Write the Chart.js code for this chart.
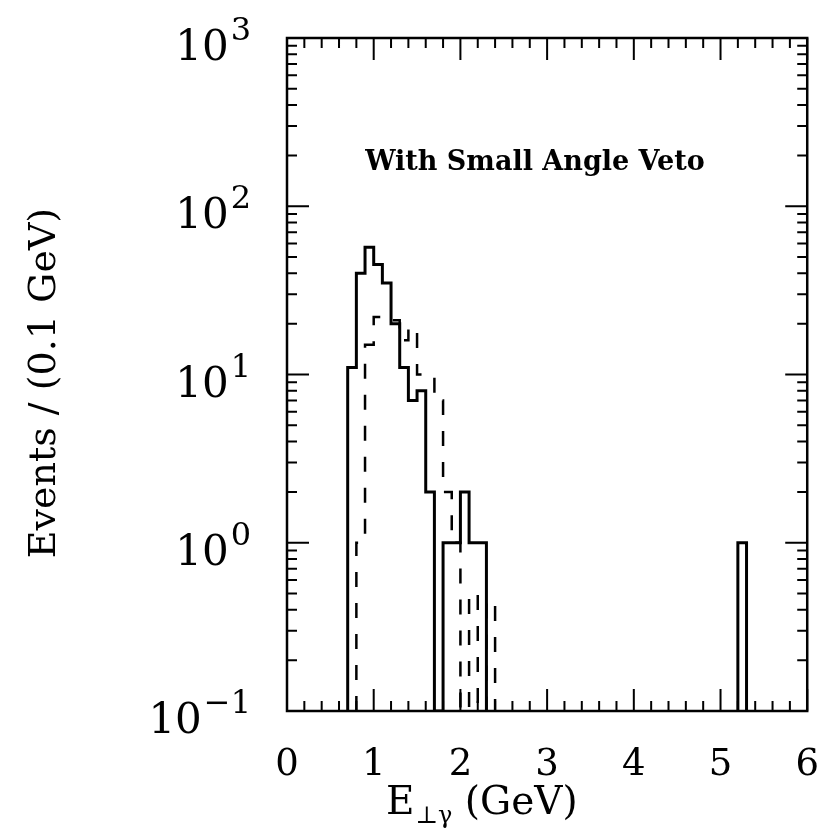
<!DOCTYPE html>
<html>
<head>
<meta charset="utf-8">
<script src="https://cdn.jsdelivr.net/npm/chart.js@4.4.1/dist/chart.umd.min.js"></script>
<style>
  html, body { margin: 0; padding: 0; background: #fff; }
  #wrap { position: relative; width: 819px; height: 834px; }
</style>
</head>
<body>
<div id="wrap"><canvas id="histChart"></canvas></div>
<script>
// histogram bins are 0.1 GeV wide, listed by their left edge
const binWidth = 0.1;
const solidLeft   = [0.7, 0.8, 0.9, 1.0, 1.1, 1.2, 1.3, 1.4, 1.5, 1.6, 1.7, 1.8, 1.9, 2.0, 2.1, 2.2, 5.2];
const solidCounts = [11, 40, 57, 45, 35, 20, 11, 7, 8, 2, 0, 1, 1, 2, 1, 1, 1];
const dashedLeft   = [0.8, 0.9, 1.0, 1.1, 1.2, 1.3, 1.4, 1.5, 1.6, 1.7, 1.8, 1.9, 2.0, 2.1, 2.2, 2.3];
const dashedCounts = [1, 15, 22, 22, 21, 16, 19, 10, 10, 7, 2, 1, 0, 0.5, 0, 0.45];

const xMin = 0, xMax = 6;
const yMin = 0.1, yMax = 1000;
const yTickValues = [0.1, 1, 10, 100, 1000];
const yTickExponents = ['\u22121', '0', '1', '2', '3'];
const panelLabel = 'With Small Angle Veto';
const yTitle = 'Events / (0.1 GeV)';

const serif = '"DejaVu Serif", "Liberation Serif", serif';

// turn bins into a stepped outline; empty bins sit on the axis floor
function stepPoints(lefts, counts) {
  const pts = [];
  for (let i = 0; i < lefts.length; i++) {
    const joined = i > 0 && Math.abs(lefts[i] - lefts[i - 1] - binWidth) < 1e-6;
    if (!joined) {
      if (i > 0) {
        pts.push({ x: lefts[i - 1] + binWidth, y: yMin });
        pts.push({ x: (lefts[i - 1] + binWidth + lefts[i]) / 2, y: null });
      }
      pts.push({ x: lefts[i], y: yMin });
    }
    pts.push({ x: lefts[i], y: Math.max(counts[i], yMin) });
    pts.push({ x: lefts[i] + binWidth, y: Math.max(counts[i], yMin) });
  }
  pts.push({ x: lefts[lefts.length - 1] + binWidth, y: yMin });
  return pts;
}

const framePlugin = {
  id: 'frame',
  afterDraw(chart) {
    const ctx = chart.ctx;
    const a = chart.chartArea;
    const xs = chart.scales.x, ys = chart.scales.y;
    ctx.save();
    ctx.strokeStyle = '#000';
    ctx.lineWidth = 2;
    ctx.beginPath();
    // x ticks, top and bottom, every 0.2 with long ones on integers
    for (let k = 0; k <= 30; k++) {
      const px = xs.getPixelForValue(k * 0.2);
      const len = k % 5 === 0 ? 22 : 10;
      ctx.moveTo(px, a.bottom); ctx.lineTo(px, a.bottom - len);
      ctx.moveTo(px, a.top); ctx.lineTo(px, a.top + len);
    }
    // log ticks, left and right
    for (let d = -1; d <= 2; d++) {
      for (let m = 1; m <= 9; m++) {
        const py = ys.getPixelForValue(m * Math.pow(10, d));
        const len = m === 1 ? 22 : 10;
        ctx.moveTo(a.left, py); ctx.lineTo(a.left + len, py);
        ctx.moveTo(a.right, py); ctx.lineTo(a.right - len, py);
      }
    }
    ctx.stroke();
    ctx.lineWidth = 2.5;
    ctx.strokeRect(a.left, a.top, a.right - a.left, a.bottom - a.top);

    // y tick labels: 10 with raised exponent
    ctx.fillStyle = '#000';
    ctx.textBaseline = 'alphabetic';
    yTickValues.forEach((v, i) => {
      const py = ys.getPixelForValue(v);
      ctx.font = '32px ' + serif;
      ctx.textAlign = 'right';
      const expW = ctx.measureText(yTickExponents[i]).width;
      ctx.fillText(yTickExponents[i], 251, py + 2);
      ctx.font = '42px ' + serif;
      ctx.fillText('10', 251 - expW - 2, py + 22);
    });

    // label inside the panel
    ctx.font = 'bold 27px ' + serif;
    ctx.textAlign = 'center';
    ctx.fillText(panelLabel, 535, 170);

    // x title: E with lowered ⊥γ
    ctx.textAlign = 'left';
    let tx = 386;
    ctx.font = '39px ' + serif;
    ctx.fillText('E', tx, 814);
    tx += ctx.measureText('E').width + 1;
    ctx.font = '24px ' + serif;
    ctx.fillText('\u22a5\u03b3', tx, 823);
    tx += ctx.measureText('\u22a5\u03b3').width;
    ctx.font = '39px ' + serif;
    ctx.fillText(' (GeV)', tx, 814);

    // y title, rotated
    ctx.save();
    ctx.translate(55, 383);
    ctx.rotate(-Math.PI / 2);
    ctx.textAlign = 'center';
    ctx.font = '38px ' + serif;
    ctx.fillText(yTitle, 0, 0);
    ctx.restore();
    ctx.restore();
  }
};

document.addEventListener('DOMContentLoaded', function() {
  const ctx = document.getElementById('histChart').getContext('2d');
  new Chart(ctx, {
    type: 'line',
    data: {
      datasets: [{
        label: 'Data',
        data: stepPoints(solidLeft, solidCounts),
        borderColor: '#000',
        borderWidth: 3,
        pointRadius: 0,
        tension: 0,
        fill: false,
        spanGaps: false
      },
      {
        label: 'Expected',
        data: stepPoints(dashedLeft, dashedCounts),
        borderColor: '#000',
        borderWidth: 2.5,
        borderDash: [15, 16],
        pointRadius: 0,
        tension: 0,
        fill: false,
        spanGaps: false
      }]
    },
    options: {
      responsive: true,
      maintainAspectRatio: false,
      animation: false,
      layout: { padding: { top: 38, right: 11, left: 0, bottom: 0 } },
      plugins: {
        legend: { display: false },
        tooltip: { enabled: false }
      },
      scales: {
        x: {
          type: 'linear',
          min: xMin,
          max: xMax,
          grid: {
            display: true,
            drawOnChartArea: false,
            drawTicks: true,
            tickLength: 32,
            color: 'rgba(0,0,0,0)'
          },
          border: { display: false },
          ticks: {
            stepSize: 1,
            color: '#000',
            padding: 0,
            font: { family: serif, size: 37 }
          },
          afterFit(scale) { scale.height = 123; }
        },
        y: {
          type: 'logarithmic',
          min: yMin,
          max: yMax,
          grid: { display: false },
          border: { display: false },
          ticks: { display: false },
          afterFit(scale) { scale.width = 287; }
        }
      }
    },
    plugins: [framePlugin]
  });
});
</script>
</body>
</html>
